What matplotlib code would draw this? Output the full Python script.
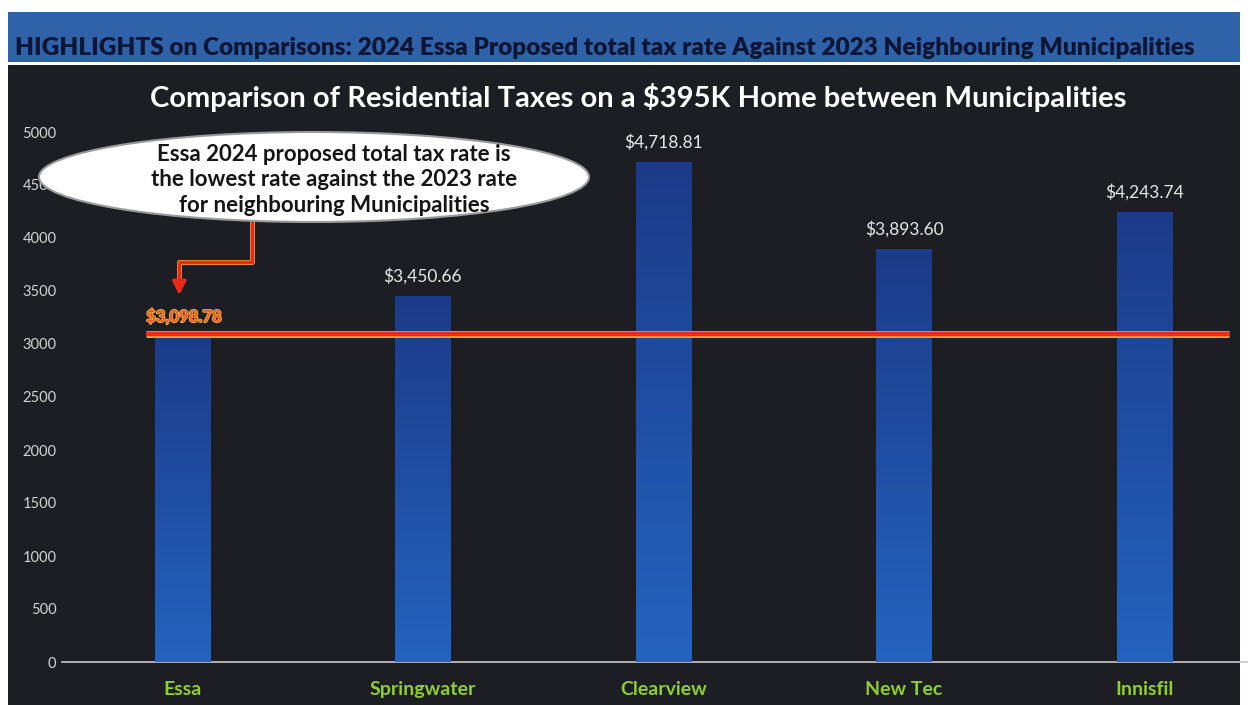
import matplotlib
matplotlib.use("Agg")
import matplotlib.pyplot as plt
import matplotlib.patches as mpatches
import matplotlib.patheffects as pe
import numpy as np

# data
towns = ["Essa", "Springwater", "Clearview", "New Tec", "Innisfil"]
taxes = [3098.78, 3450.66, 4718.81, 3893.60, 4243.74]
essa_rate = 3098.78

header = "HIGHLIGHTS on Comparisons: 2024 Essa Proposed total tax rate Against 2023 Neighbouring Municipalities"
title = "Comparison of Residential Taxes on a $395K Home between Municipalities"
callout = ("Essa 2024 proposed total tax rate is\n"
           "the lowest rate against the 2023 rate\n"
           "for neighbouring Municipalities")

plt.rcParams['font.family'] = ['Lato', 'DejaVu Sans']

fig = plt.figure(figsize=(12.48, 7.05), dpi=100)
fig.patch.set_facecolor("white")

# dark panel and blue header band
fig.patches.append(mpatches.Rectangle((8/1248, 0), 1232/1248, 640/705,
                                      transform=fig.transFigure,
                                      facecolor="#1d1e23", edgecolor="none", zorder=-2))
fig.patches.append(mpatches.Rectangle((8/1248, 1 - 62/705), 1232/1248, 50/705,
                                      transform=fig.transFigure,
                                      facecolor="#3062aa", edgecolor="none", zorder=-2))
fig.text(15/1248, 1 - 48/705, header, fontsize=17.6, fontweight="heavy",
         color="#0d1634", ha="left", va="center")

ax = fig.add_axes([62/1248, 1 - 662/705, 1186/1248, 530/705])
ax.set_facecolor("none")
ax.set_zorder(2)

x = np.arange(len(towns))
bars = ax.bar(x, taxes, width=0.23, color="#1f4d9e", zorder=2)

# vertical gradient inside each bar: darker at top, lighter at bottom
grad = np.linspace(0, 1, 256).reshape(-1, 1)
cmap = matplotlib.colors.LinearSegmentedColormap.from_list("b", ["#2463c0", "#1b3b88"])
for b in bars:
    im = ax.imshow(grad, cmap=cmap, aspect="auto", origin="lower",
                   extent=[b.get_x(), b.get_x() + b.get_width(), 0, b.get_height()],
                   zorder=3)
    im.set_clip_path(b)

ax.set_xlim(-0.5, 4.43)
ax.set_ylim(0, 5000)
ax.set_yticks(np.arange(0, 5001, 500))
ax.set_xticks(x)
ax.set_xticklabels(towns, color="#8fcf2a", fontweight="bold", fontsize=14)
ax.tick_params(axis="x", length=0, pad=14)
ax.tick_params(axis="y", length=0, labelsize=10.5, labelcolor="#d4d4d4", pad=4)
for s in ["top", "right", "left"]:
    ax.spines[s].set_visible(False)
ax.spines["bottom"].set_color("#c9c9c9")
ax.spines["bottom"].set_linewidth(1.2)

# value labels
for xi, v in zip(x[1:], taxes[1:]):
    ax.text(xi, v + 110, "${:,.2f}".format(v), ha="center", va="bottom",
            color="#e6e6e6", fontsize=12.5, zorder=5)

# Essa reference line
ax.plot([-0.15, 4.35], [essa_rate, essa_rate], color="#ee2a1c", lw=3.2, zorder=6,
        solid_capstyle="butt",
        path_effects=[pe.Stroke(linewidth=5, foreground="#f2a23a"), pe.Normal()])
ax.text(-0.15, essa_rate + 80, "${:,.2f}".format(essa_rate), ha="left", va="bottom",
        color="#f0552a", fontsize=12, fontweight="bold", zorder=6,
        path_effects=[pe.withStroke(linewidth=1.2, foreground="#f3c040")])

# callout ellipse
ell = mpatches.Ellipse((314/1248, 1 - 177/705), 550/1248, 90/705,
                       transform=fig.transFigure, facecolor="white",
                       edgecolor="#9a9a9a", lw=1.5, zorder=10)
fig.patches.append(ell)
fig.text(334/1248, 1 - 180/705, callout, ha="center", va="center",
         fontsize=16, fontweight="bold", color="#151515",
         linespacing=1.25, zorder=11)

# elbow connector from callout to the Essa bar
ax.plot([0.29, 0.29, -0.0125, -0.0125], [4151, 3774, 3774, 3560],
        color="#e8291c", lw=2.5, zorder=7,
        path_effects=[pe.Stroke(linewidth=3.5, foreground="#f2b030"), pe.Normal()])
ax.annotate("", xy=(-0.0125, 3434), xytext=(-0.0125, 3580),
            arrowprops=dict(arrowstyle="-|>,head_length=0.8,head_width=0.4",
                            color="#e8291c", lw=2.5), zorder=7)

fig.text(638/1248, 1 - 98/705, title, ha="center", va="center",
         fontsize=21, fontweight="bold", color="white")

fig.savefig("out.png", dpi=100, facecolor=fig.get_facecolor())
